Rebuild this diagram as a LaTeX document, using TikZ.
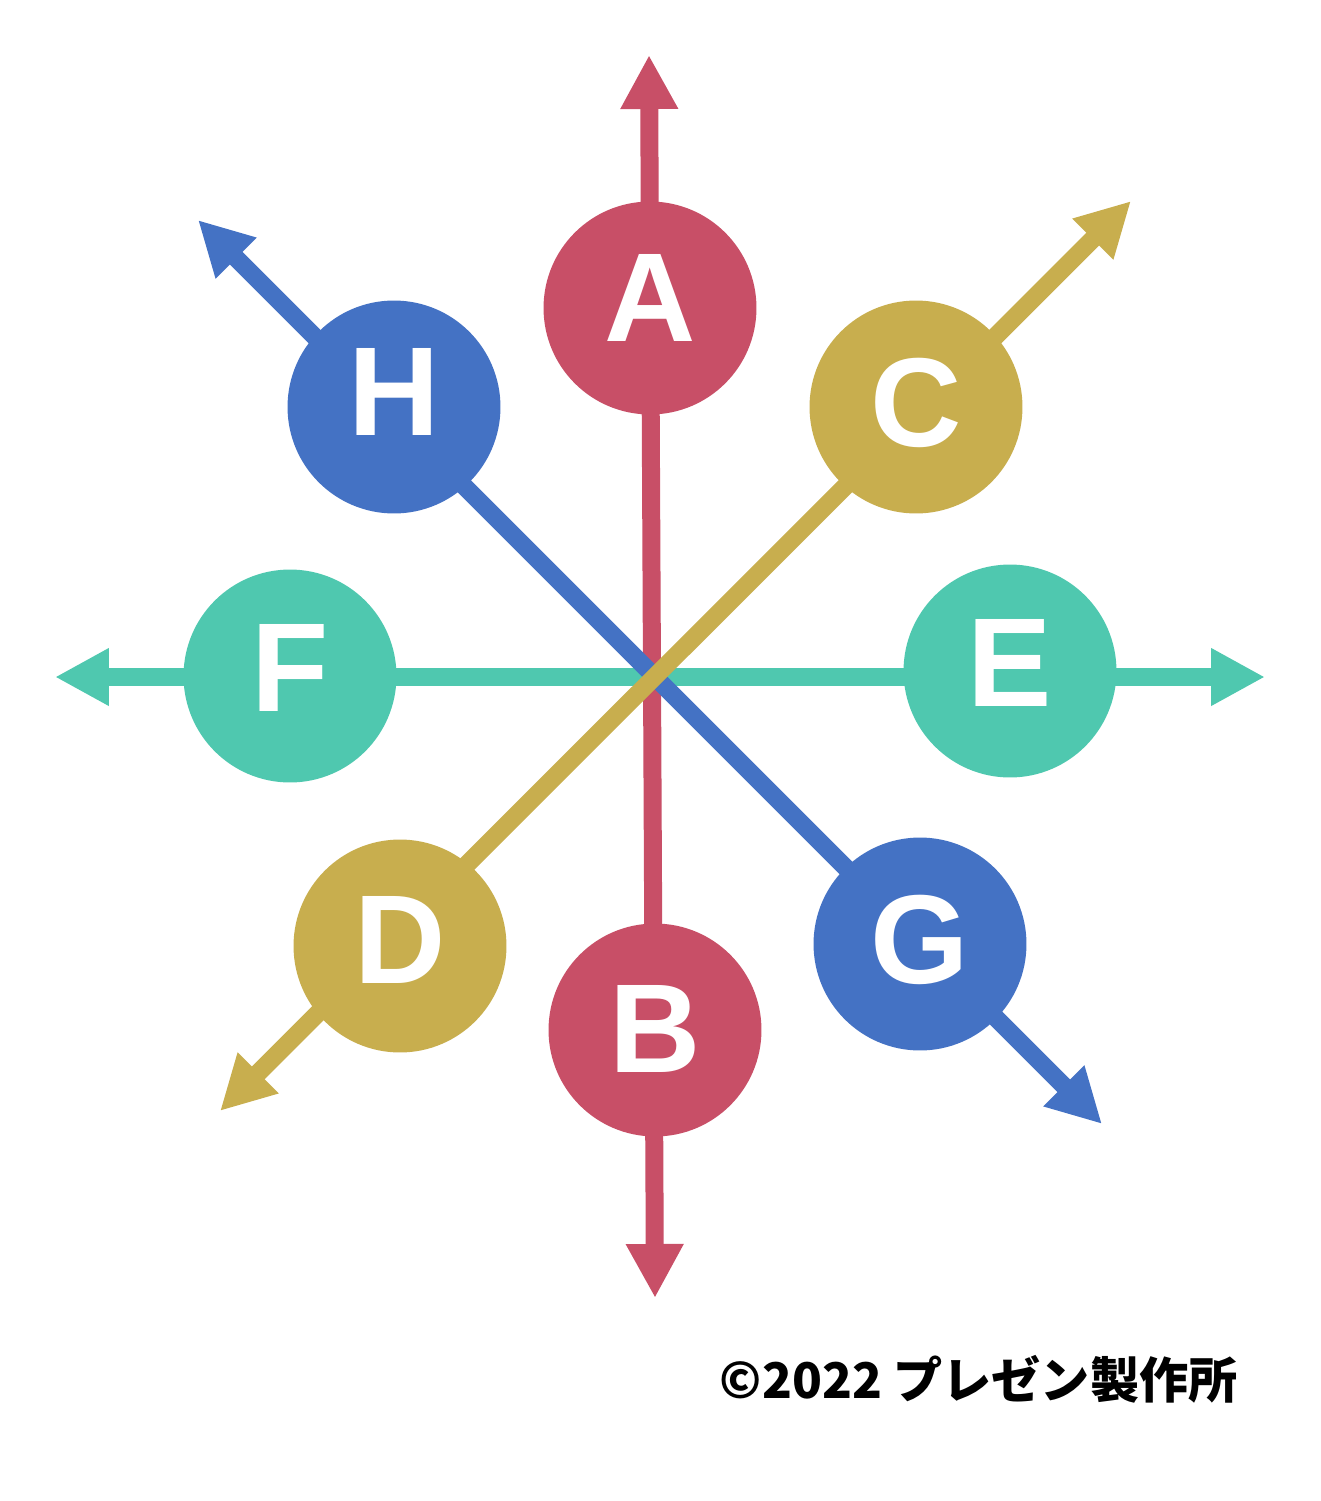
\documentclass[tikz,border=0pt]{standalone}
\usepackage{fontspec}
\setmainfont{Liberation Sans}
\newfontfamily\cjk{Noto Sans CJK JP}
\usetikzlibrary{arrows.meta,positioning}

\definecolor{redc}{HTML}{C84F67}
\definecolor{tealc}{HTML}{4FC8AF}
\definecolor{bluec}{HTML}{4472C4}
\definecolor{goldc}{HTML}{C8AE4E}

\begin{document}
\begin{tikzpicture}[x=0.02cm, y=-0.02cm, >={Triangle[length=1.08cm, width=1.08cm]},
  axis/.style={<->, line width=0.36cm, draw=#1},
  ball/.style={circle, fill=#1, minimum size=4.26cm, inner sep=0pt},
  lettr/.style={text=white, inner sep=0pt, font=\fontsize{72}{72}\selectfont\bfseries}]
\useasboundingbox (0,0) rectangle (1321,1501);
% arrow ends
\coordinate (atip) at (649,55);
\coordinate (btip) at (655,1298);
\coordinate (ftip) at (55,677);
\coordinate (etip) at (1265,677);
\coordinate (htip) at (198,220);
\coordinate (gtip) at (1102,1124);
\coordinate (ctip) at (1131,201);
\coordinate (dtip) at (220,1111);
\draw[axis=redc] (atip) -- (btip);
\draw[axis=tealc] (ftip) -- (etip);
\draw[axis=bluec] (htip) -- (gtip);
\draw[axis=goldc] (ctip) -- (dtip);
% circles
\node[ball=redc, label={[lettr, yshift=0.21cm]center:A}] (A) at (650,308) {};
\node[ball=redc, label={[lettr, yshift=0.02cm]center:B}] (B) at (655,1030) {};
\node[ball=goldc, label={[lettr, yshift=0.08cm]center:C}] (C) at (916,407) {};
\node[ball=goldc, label={[lettr, yshift=0.12cm]center:D}] (D) at (400,946) {};
\node[ball=tealc, label={[lettr, yshift=0.17cm]center:E}] (E) at (1010,671) {};
\node[ball=tealc, label={[lettr, yshift=0.17cm]center:F}] (F) at (290,676) {};
\node[ball=bluec, label={[lettr, yshift=0.08cm]center:G}] (G) at (920,944) {};
\node[ball=bluec, label={[lettr, yshift=0.3cm]center:H}] (H) at (394,407) {};
\node[anchor=base east, inner sep=0pt, font=\cjk\bfseries\fontsize{28}{28}\selectfont] (credit) at (1238,1398) {©2022 プレゼン製作所};
\end{tikzpicture}
\end{document}
